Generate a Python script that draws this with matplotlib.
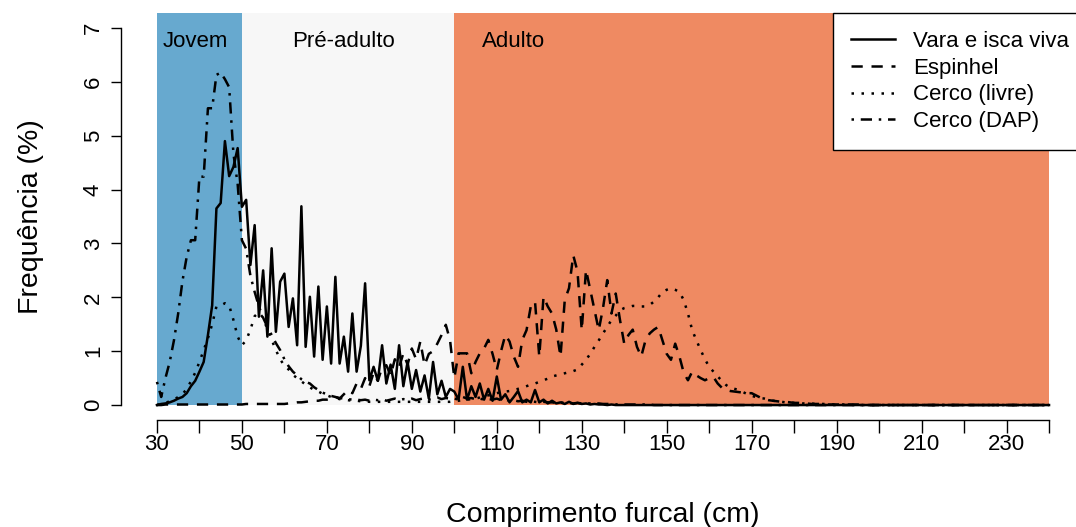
# -*- coding: utf-8 -*-
"""
Frequência de comprimento furcal por arte de pesca
- faixas de fundo: Jovem / Pré-adulto / Adulto
- estilo próximo ao gráfico base do R
"""

import numpy as np
import matplotlib.pyplot as plt
from matplotlib.lines import Line2D

# -------------------- Dados (classes de 1 cm, 30 a 240 cm)
comprimento = np.arange(30, 241)

vara_isca = [
    0.00, 0.02, 0.03, 0.05, 0.08, 0.12, 0.15, 0.22, 0.35, 0.45,   # 30
    0.62, 0.80, 1.30, 1.85, 3.65, 3.75, 4.90, 4.25, 4.42, 4.77,   # 40
    3.68, 3.81, 2.60, 3.34, 1.64, 2.50, 1.27, 2.91, 1.36, 2.29,   # 50
    2.44, 1.45, 1.98, 1.11, 3.69, 1.08, 2.01, 0.90, 2.20, 0.84,   # 60
    1.83, 0.77, 2.38, 0.77, 1.27, 0.62, 1.70, 0.62, 1.10, 2.26,   # 70
    0.46, 0.71, 0.45, 1.11, 0.40, 0.75, 0.30, 1.11, 0.35, 0.80,   # 80
    0.30, 0.65, 0.25, 0.55, 0.12, 0.80, 0.20, 0.45, 0.15, 0.30,   # 90
    0.25, 0.10, 0.71, 0.10, 0.35, 0.15, 0.40, 0.10, 0.30, 0.08,   # 100
    0.53, 0.10, 0.20, 0.05, 0.15, 0.26, 0.05, 0.10, 0.05, 0.28,   # 110
    0.05, 0.10, 0.03, 0.08, 0.03, 0.05, 0.02, 0.06, 0.02, 0.04,   # 120
    0.02, 0.03, 0.01, 0.02, 0.01, 0.01, 0.00, 0.01, 0.00, 0.00,   # 130
    0.00, 0.00, 0.00, 0.00, 0.00, 0.00, 0.00, 0.00, 0.00, 0.00,   # 140
    0.00, 0.00, 0.00, 0.00, 0.00, 0.00, 0.00, 0.00, 0.00, 0.00,   # 150
    0.00, 0.00, 0.00, 0.00, 0.00, 0.00, 0.00, 0.00, 0.00, 0.00,   # 160
    0.00, 0.00, 0.00, 0.00, 0.00, 0.00, 0.00, 0.00, 0.00, 0.00,   # 170
    0.00, 0.00, 0.00, 0.00, 0.00, 0.00, 0.00, 0.00, 0.00, 0.00,   # 180
    0.00, 0.00, 0.00, 0.00, 0.00, 0.00, 0.00, 0.00, 0.00, 0.00,   # 190
    0.00, 0.00, 0.00, 0.00, 0.00, 0.00, 0.00, 0.00, 0.00, 0.00,   # 200
    0.00, 0.00, 0.00, 0.00, 0.00, 0.00, 0.00, 0.00, 0.00, 0.00,   # 210
    0.00, 0.00, 0.00, 0.00, 0.00, 0.00, 0.00, 0.00, 0.00, 0.00,   # 220
    0.00, 0.00, 0.00, 0.00, 0.00, 0.00, 0.00, 0.00, 0.00, 0.00,   # 230
    0.00,                                                         # 240
]

espinhel = [
    0.00, 0.00, 0.01, 0.01, 0.01, 0.01, 0.01, 0.01, 0.01, 0.01,   # 30
    0.01, 0.01, 0.01, 0.01, 0.01, 0.01, 0.01, 0.01, 0.01, 0.01,   # 40
    0.01, 0.02, 0.02, 0.02, 0.02, 0.02, 0.02, 0.02, 0.02, 0.02,   # 50
    0.02, 0.03, 0.04, 0.05, 0.05, 0.06, 0.07, 0.08, 0.08, 0.10,   # 60
    0.10, 0.12, 0.15, 0.12, 0.20, 0.28, 0.22, 0.40, 0.30, 0.50,   # 70
    0.35, 0.60, 0.45, 0.70, 0.74, 0.55, 0.85, 0.70, 0.96, 0.75,   # 80
    1.05, 0.85, 1.18, 0.74, 0.95, 1.00, 1.14, 1.30, 1.49, 1.20,   # 90
    0.50, 0.96, 0.96, 0.96, 0.59, 0.80, 0.96, 1.05, 1.21, 0.95,   # 100
    0.65, 1.00, 1.30, 1.18, 0.90, 0.71, 1.21, 1.39, 1.83, 1.92,   # 110
    0.90, 2.01, 1.83, 1.70, 1.40, 0.90, 1.95, 2.17, 2.78, 2.48,   # 120
    1.39, 2.51, 2.14, 1.76, 1.39, 1.80, 2.32, 1.70, 2.07, 1.58,   # 130
    1.14, 1.30, 1.40, 1.08, 0.90, 1.20, 1.33, 1.40, 1.45, 1.20,   # 140
    0.95, 0.84, 1.14, 0.90, 0.60, 0.46, 0.62, 0.55, 0.50, 0.46,   # 150
    0.50, 0.52, 0.40, 0.32, 0.28, 0.26, 0.25, 0.24, 0.23, 0.22,   # 160
    0.22, 0.18, 0.14, 0.11, 0.09, 0.08, 0.07, 0.06, 0.06, 0.05,   # 170
    0.04, 0.04, 0.03, 0.03, 0.02, 0.02, 0.02, 0.01, 0.01, 0.01,   # 180
    0.01, 0.01, 0.01, 0.01, 0.01, 0.01, 0.00, 0.00, 0.00, 0.00,   # 190
    0.00, 0.00, 0.00, 0.00, 0.00, 0.00, 0.00, 0.00, 0.00, 0.00,   # 200
    0.00, 0.00, 0.00, 0.00, 0.00, 0.00, 0.00, 0.00, 0.00, 0.00,   # 210
    0.00, 0.00, 0.00, 0.00, 0.00, 0.00, 0.00, 0.00, 0.00, 0.00,   # 220
    0.00, 0.00, 0.00, 0.00, 0.00, 0.00, 0.00, 0.00, 0.00, 0.00,   # 230
    0.00,                                                         # 240
]

cerco_livre = [
    0.00, 0.02, 0.04, 0.07, 0.10, 0.15, 0.20, 0.30, 0.44, 0.60,   # 30
    0.80, 1.02, 1.24, 1.50, 1.83, 1.85, 1.89, 1.85, 1.58, 1.27,   # 40
    1.11, 1.20, 1.40, 1.65, 1.72, 1.62, 1.40, 1.21, 1.02, 0.85,   # 50
    0.73, 0.66, 0.56, 0.50, 0.44, 0.38, 0.33, 0.28, 0.25, 0.21,   # 60
    0.18, 0.15, 0.13, 0.11, 0.10, 0.09, 0.08, 0.08, 0.07, 0.07,   # 70
    0.06, 0.06, 0.06, 0.06, 0.06, 0.06, 0.06, 0.06, 0.06, 0.06,   # 80
    0.06, 0.06, 0.06, 0.06, 0.06, 0.06, 0.06, 0.06, 0.06, 0.06,   # 90
    0.07, 0.08, 0.09, 0.10, 0.11, 0.12, 0.14, 0.16, 0.18, 0.20,   # 100
    0.22, 0.24, 0.25, 0.26, 0.28, 0.30, 0.32, 0.35, 0.38, 0.40,   # 110
    0.43, 0.46, 0.49, 0.53, 0.55, 0.57, 0.59, 0.61, 0.63, 0.66,   # 120
    0.75, 0.84, 0.95, 1.08, 1.20, 1.33, 1.45, 1.58, 1.66, 1.76,   # 130
    1.80, 1.82, 1.84, 1.84, 1.83, 1.83, 1.86, 1.92, 2.00, 2.10,   # 140
    2.14, 2.17, 2.14, 2.10, 1.95, 1.70, 1.39, 1.20, 1.02, 0.85,   # 150
    0.71, 0.62, 0.53, 0.45, 0.37, 0.32, 0.30, 0.28, 0.24, 0.20,   # 160
    0.17, 0.15, 0.13, 0.12, 0.10, 0.08, 0.07, 0.06, 0.05, 0.05,   # 170
    0.04, 0.04, 0.03, 0.03, 0.03, 0.02, 0.02, 0.02, 0.01, 0.01,   # 180
    0.01, 0.01, 0.01, 0.01, 0.00, 0.00, 0.00, 0.00, 0.00, 0.00,   # 190
    0.00, 0.00, 0.00, 0.00, 0.00, 0.00, 0.00, 0.00, 0.00, 0.00,   # 200
    0.00, 0.00, 0.00, 0.00, 0.00, 0.00, 0.00, 0.00, 0.00, 0.00,   # 210
    0.00, 0.00, 0.00, 0.00, 0.00, 0.00, 0.00, 0.00, 0.00, 0.00,   # 220
    0.00, 0.00, 0.00, 0.00, 0.00, 0.00, 0.00, 0.00, 0.00, 0.00,   # 230
    0.00,                                                         # 240
]

cerco_dap = [
    0.43, 0.15, 0.50, 0.80, 1.20, 1.70, 2.30, 2.75, 3.06, 3.06,   # 30
    4.24, 4.24, 5.51, 5.51, 6.13, 6.17, 6.05, 5.90, 4.67, 4.10,   # 40
    3.06, 2.90, 2.40, 2.10, 1.83, 1.62, 1.45, 1.30, 1.15, 1.02,   # 50
    0.85, 0.72, 0.62, 0.55, 0.48, 0.43, 0.40, 0.33, 0.28, 0.23,   # 60
    0.20, 0.17, 0.15, 0.13, 0.12, 0.11, 0.10, 0.10, 0.09, 0.10,   # 70
    0.08, 0.10, 0.09, 0.11, 0.08, 0.10, 0.12, 0.09, 0.11, 0.10,   # 80
    0.12, 0.09, 0.11, 0.13, 0.10, 0.12, 0.14, 0.11, 0.13, 0.12,   # 90
    0.12, 0.10, 0.15, 0.12, 0.13, 0.11, 0.12, 0.10, 0.11, 0.10,   # 100
    0.12, 0.09, 0.10, 0.08, 0.09, 0.07, 0.08, 0.06, 0.07, 0.06,   # 110
    0.05, 0.06, 0.05, 0.05, 0.04, 0.05, 0.04, 0.04, 0.03, 0.04,   # 120
    0.03, 0.03, 0.03, 0.02, 0.03, 0.02, 0.02, 0.02, 0.01, 0.02,   # 130
    0.01, 0.01, 0.01, 0.01, 0.01, 0.01, 0.01, 0.00, 0.00, 0.00,   # 140
    0.00, 0.00, 0.00, 0.00, 0.00, 0.00, 0.00, 0.00, 0.00, 0.00,   # 150
    0.00, 0.00, 0.00, 0.00, 0.00, 0.00, 0.00, 0.00, 0.00, 0.00,   # 160
    0.00, 0.00, 0.00, 0.00, 0.00, 0.00, 0.00, 0.00, 0.00, 0.00,   # 170
    0.00, 0.00, 0.00, 0.00, 0.00, 0.00, 0.00, 0.00, 0.00, 0.00,   # 180
    0.00, 0.00, 0.00, 0.00, 0.00, 0.00, 0.00, 0.00, 0.00, 0.00,   # 190
    0.00, 0.00, 0.00, 0.00, 0.00, 0.00, 0.00, 0.00, 0.00, 0.00,   # 200
    0.00, 0.00, 0.00, 0.00, 0.00, 0.00, 0.00, 0.00, 0.00, 0.00,   # 210
    0.00, 0.00, 0.00, 0.00, 0.00, 0.00, 0.00, 0.00, 0.00, 0.00,   # 220
    0.00, 0.00, 0.00, 0.00, 0.00, 0.00, 0.00, 0.00, 0.00, 0.00,   # 230
    0.00,                                                         # 240
]

series_nomes = ["Vara e isca viva", "Espinhel", "Cerco (livre)", "Cerco (DAP)"]

# faixas de fundo (cm)
fases = ["Jovem", "Pré-adulto", "Adulto"]
fase_inicio = [30, 50, 100]
fase_fim = [50, 100, 240]
fase_texto_x = [39.0, 73.8, 114.0]

x_ticks = list(range(30, 241, 10))
x_ticklabels = [str(t) if (t - 30) % 20 == 0 else "" for t in x_ticks]
y_ticks = list(range(0, 8))

# -------------------- Estilo
CORES_FASE = ["#67A9CF", "#F7F7F7", "#EF8A62"]
ESTILOS = [
    "-",
    (0, (4.5, 3.5)),
    (0, (1, 3)),
    (0, (1, 2.7, 4.5, 2.7)),
]
LW = 1.8

plt.rcParams.update({
    "font.family": ["Liberation Sans", "DejaVu Sans"],
    "font.size": 16,
})

fig = plt.figure(figsize=(10.76, 5.27), dpi=100)
ax = fig.add_axes([0.1127, 0.2028, 0.8954, 0.7727])
ax.set_xlim(21.6, 248.4)
ax.set_ylim(-0.28, 7.28)

# fundo por fase (de y=0 até o topo)
y0, y1 = ax.get_ylim()
ymin_frac = (0 - y0) / (y1 - y0)
for nome, ini, fim, cor, xt in zip(fases, fase_inicio, fase_fim, CORES_FASE, fase_texto_x):
    ax.axvspan(ini, fim, ymin=ymin_frac, ymax=1, color=cor, lw=0, zorder=0)
    ax.text(xt, 6.74, nome, ha="center", va="center", fontsize=16, zorder=3)

# séries
for vals, ls in zip([vara_isca, espinhel, cerco_livre, cerco_dap], ESTILOS):
    ax.plot(comprimento, vals, color="black", lw=LW, ls=ls, zorder=2)

# eixos estilo R
for s in ["top", "right"]:
    ax.spines[s].set_visible(False)
ax.spines["left"].set_bounds(0, 7)
ax.spines["bottom"].set_bounds(30, 240)
for s in ["left", "bottom"]:
    ax.spines[s].set_linewidth(1.0)

ax.set_xticks(x_ticks)
ax.set_xticklabels(x_ticklabels)
ax.set_yticks(y_ticks)
ax.set_yticklabels([str(v) for v in y_ticks], rotation=90, va="center")
ax.tick_params(axis="x", direction="out", length=9, width=1.0, pad=1, labelsize=16)
ax.tick_params(axis="y", direction="out", length=7.5, width=1.0, pad=5, labelsize=16)

ax.set_xlabel("Comprimento furcal (cm)", fontsize=20.5, labelpad=34)
ax.set_ylabel("Frequência (%)", fontsize=20.5, labelpad=28)

# legenda
handles = [Line2D([], [], color="black", lw=LW, ls=ls) for ls in ESTILOS]
leg = fig.legend(handles, series_nomes, loc="upper left",
                 bbox_to_anchor=(833 / 1076, 1 - 13 / 527),
                 frameon=True, fancybox=False, fontsize=16,
                 handlelength=2.0, handletextpad=0.8, labelspacing=0.26,
                 borderpad=0.8, borderaxespad=0)
leg.get_frame().set_edgecolor("black")
leg.get_frame().set_linewidth(1.0)
leg.get_frame().set_facecolor("white")
leg.get_frame().set_alpha(1)

fig.savefig("out.png", dpi=100)
plt.close(fig)
